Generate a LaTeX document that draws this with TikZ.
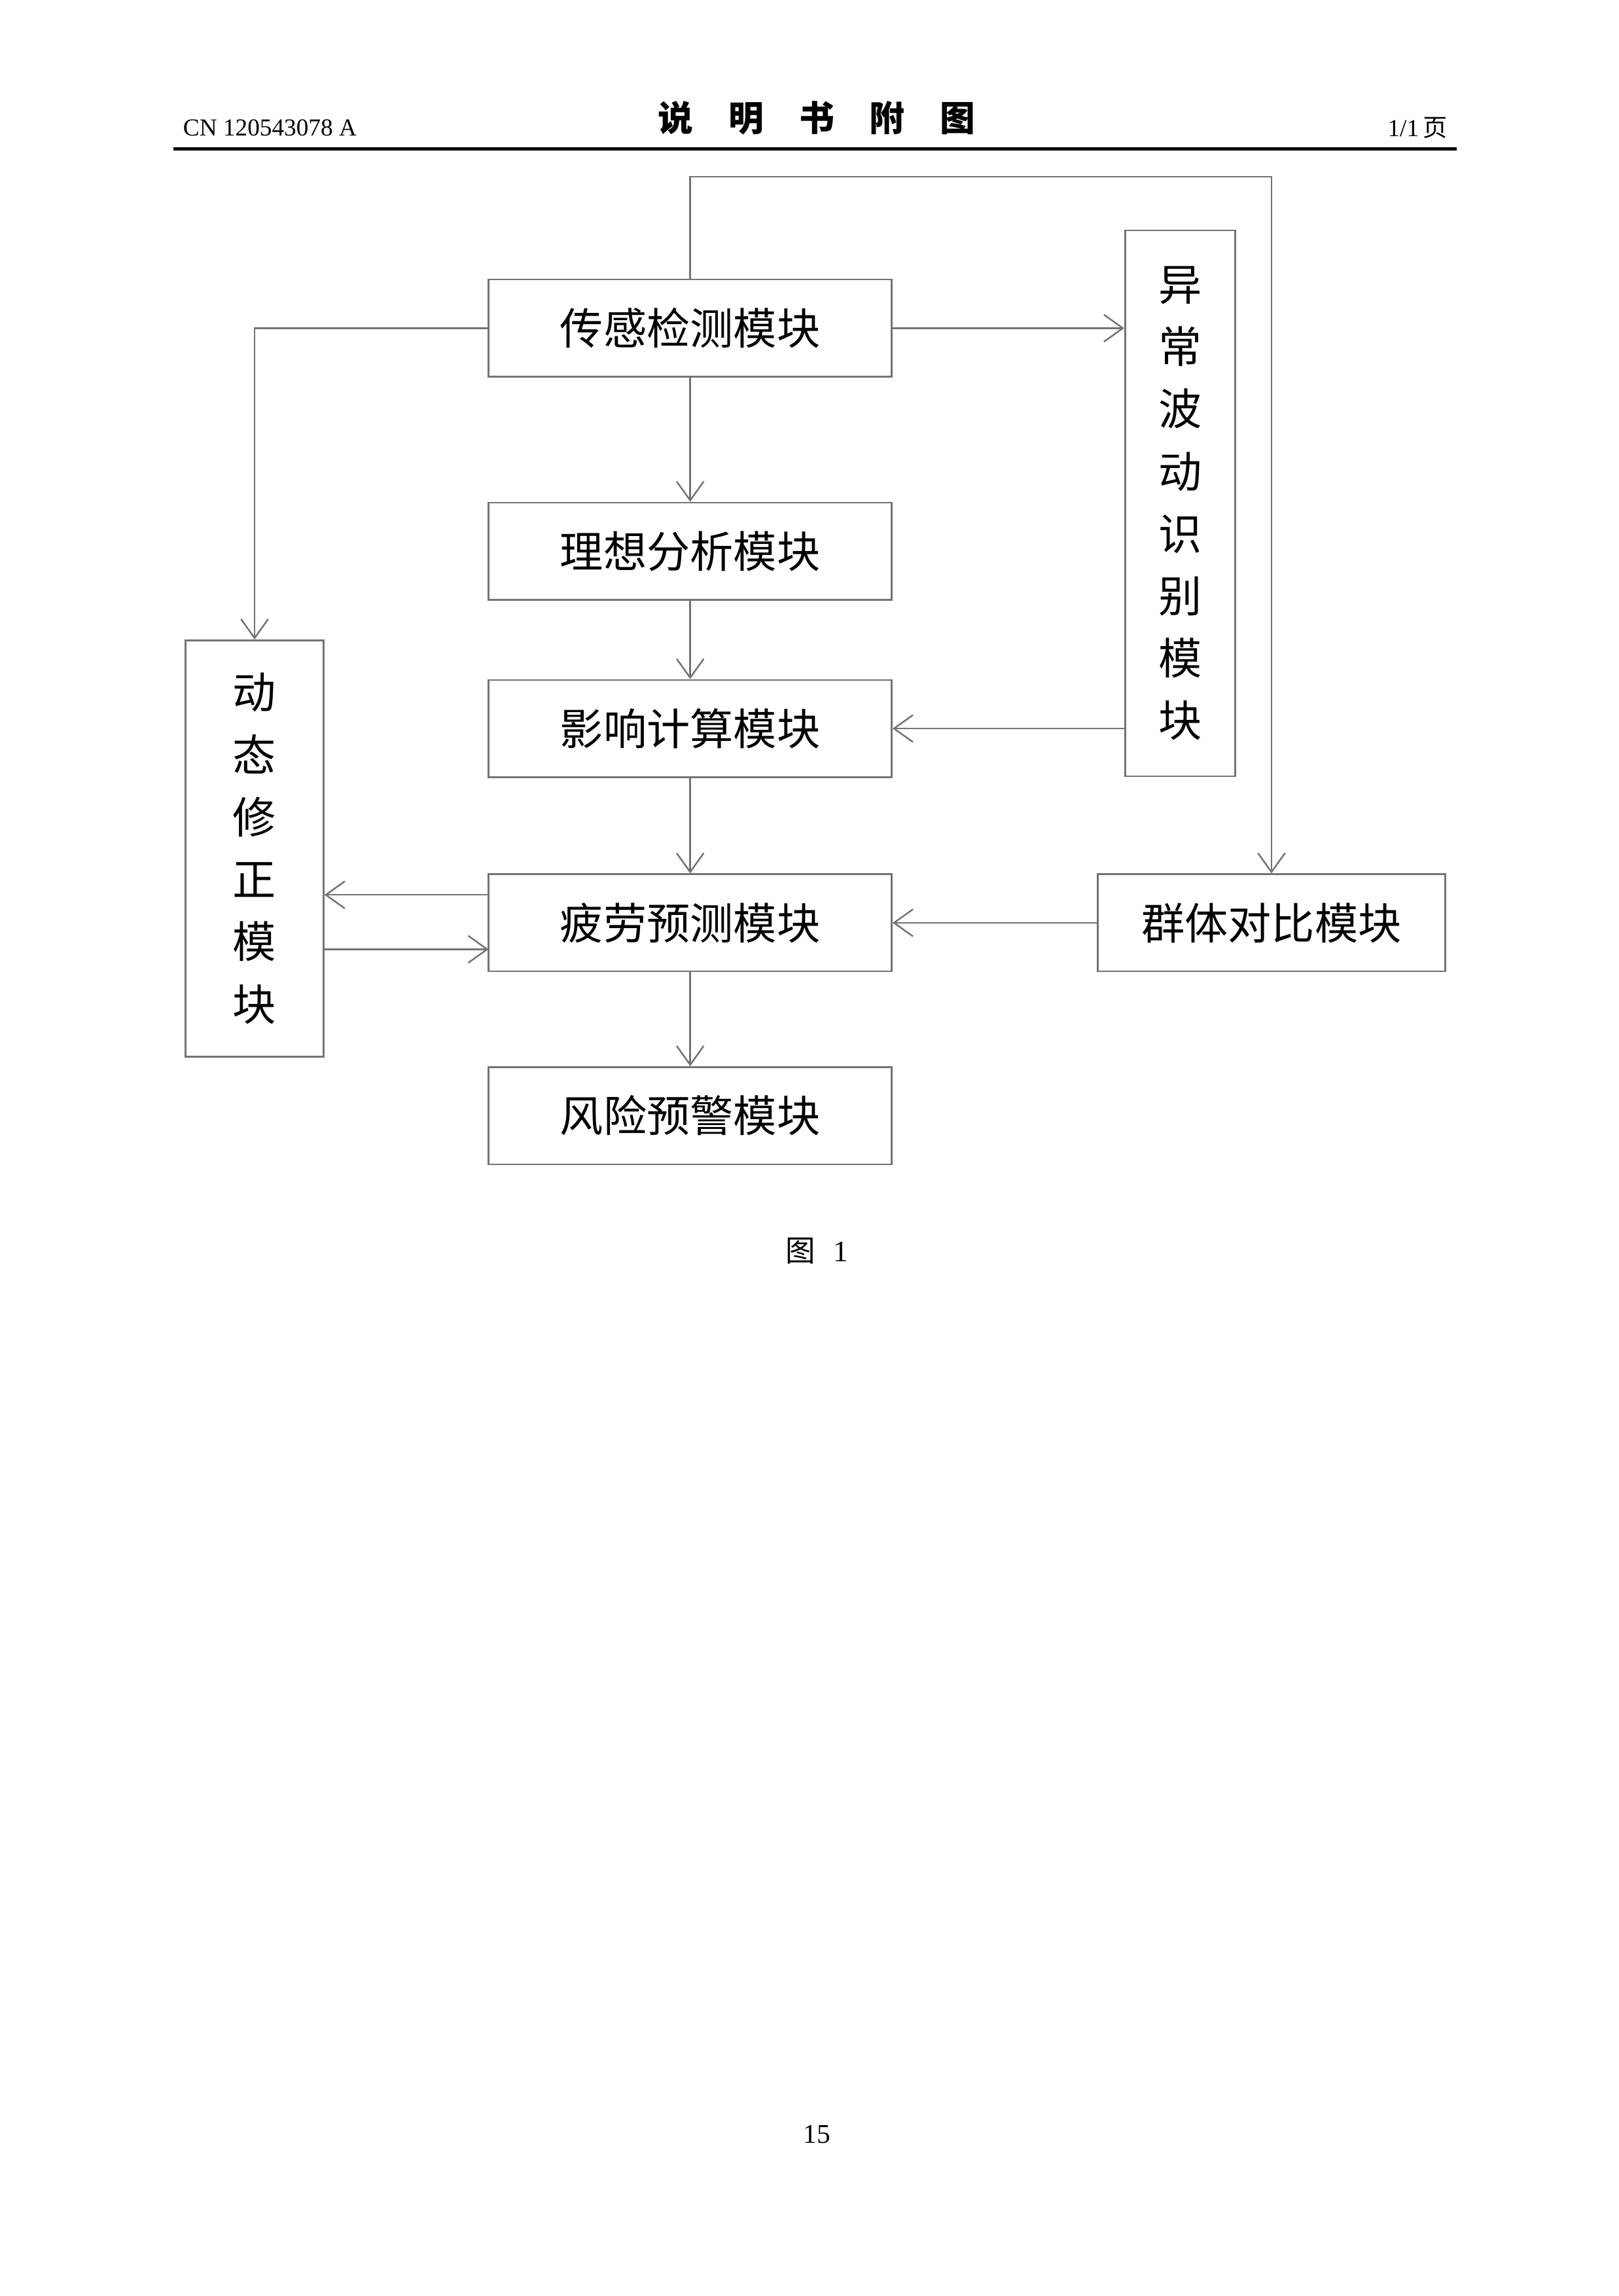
\documentclass[tikz,border=0pt]{standalone}
\usepackage{fontspec}
\setmainfont{Liberation Serif}
\newfontfamily\cjk{Noto Sans CJK SC}
\usetikzlibrary{arrows.meta}
\begin{document}
\begin{tikzpicture}[x=0.01909cm,y=-0.01909cm,>={Straight Barb[length=7pt,width=10pt]},
        line/.style={draw=black!55,line width=0.6pt},
        mod node/.style={draw=black!55,line width=0.6pt,minimum width=5.23cm,minimum height=1.26cm,inner sep=0pt,font=\cjk\fontsize{16}{16}\selectfont},
        vert node/.style={draw=black!55,line width=0.6pt,inner sep=0pt,align=center,font=\cjk\fontsize{16}{23}\selectfont}]
        \useasboundingbox (0,0) rectangle (1100,1560);
        % header
        \node[anchor=west,font=\fontsize{9}{9}\selectfont] (hdl) at (118,87) {CN 120543078 A};
        \node[font=\cjk\fontsize{13}{13}\selectfont\bfseries] (hdc) at (555,80) {说\hspace{1em}明\hspace{1em}书\hspace{1em}附\hspace{1em}图};
        \node[anchor=east,font=\fontsize{9}{9}\selectfont] (hdr) at (990,87) {1/1\,{\cjk 页}};
        \draw[line width=1.2pt] (118,101) -- (990,101);
        % modules
        \node[mod node] (sense) at (469,223) {传感检测模块};
        \node[mod node] (ideal) at (469,374.5) {理想分析模块};
        \node[mod node] (infl) at (469,495) {影响计算模块};
        \node[mod node] (fatig) at (469,627) {疲劳预测模块};
        \node[mod node] (warn) at (469,758) {风险预警模块};
        \node[vert node,minimum width=1.79cm,minimum height=5.40cm] (dyn) at (173,576.5) {动\\态\\修\\正\\模\\块};
        \node[vert node,minimum width=1.43cm,minimum height=7.08cm] (abn) at (802,342) {异\\常\\波\\动\\识\\别\\模\\块};
        \node[mod node,minimum width=4.51cm] (group) at (864,627) {群体对比模块};
        % connectors
        \coordinate (c1) at (469,120);
        \coordinate (c2) at (864,120);
        \coordinate (c3) at (173,223);
        \coordinate (fa) at (332,608);
        \coordinate (fb) at (332,645);
        \draw[line,->] (sense.north) -- (c1) -- (c2) -- (group.north);
        \draw[line,->] (sense.east) -- (abn.west |- sense.east);
        \draw[line,->] (sense.west) -- (c3) -- (dyn.north);
        \draw[line,->] (sense) -- (ideal);
        \draw[line,->] (ideal) -- (infl);
        \draw[line,->] (abn.west |- infl.east) -- (infl.east);
        \draw[line,->] (infl) -- (fatig);
        \draw[line,->] (group) -- (fatig);
        \draw[line,->] (fatig) -- (warn);
        \draw[line,->] (fa) -- (dyn.east |- fa);
        \draw[line,->] (dyn.east |- fb) -- (fb);
        % caption
        \node[font=\fontsize{11}{11}\selectfont] (cap) at (555,850) {{\cjk 图}\hspace{0.6em}1};
        \node[font=\fontsize{10}{10}\selectfont] (pg) at (555,1450) {15};
\end{tikzpicture}
\end{document}
